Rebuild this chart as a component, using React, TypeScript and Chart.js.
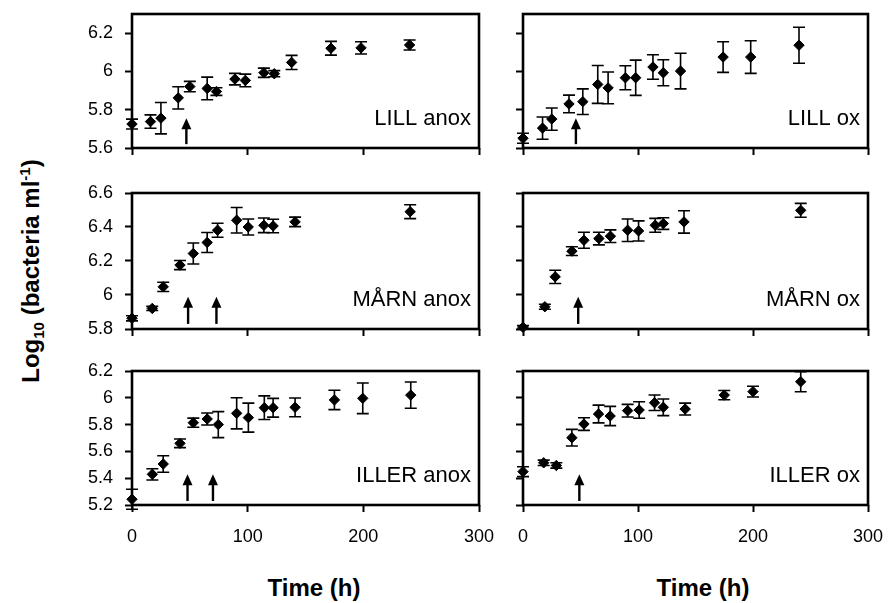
import React, { useEffect, useRef } from "react";
import { Chart, registerables } from "chart.js";

Chart.register(...registerables);

// ---------- tick labels ----------
const xTicks = [0, 100, 200, 300];
const yTicksLILL = [5.6, 5.8, 6.0, 6.2];
const yTicksMARN = [5.8, 6.0, 6.2, 6.4, 6.6];
const yTicksILLER = [5.2, 5.4, 5.6, 5.8, 6.0, 6.2];

// ---------- LILL anox ----------
const lillAnoxTime = [0, 16, 25, 40, 50, 65, 73, 89, 98, 114, 123, 138, 172, 198, 240];
const lillAnoxLog = [5.725, 5.738, 5.756, 5.862, 5.921, 5.911, 5.895, 5.96, 5.953, 5.993, 5.988, 6.047, 6.121, 6.123, 6.138];
const lillAnoxErr = [0.026, 0.035, 0.082, 0.058, 0.027, 0.059, 0.02, 0.03, 0.033, 0.024, 0.016, 0.037, 0.036, 0.032, 0.026];
const lillAnoxArrows = [47];

// ---------- LILL ox ----------
const lillOxTime = [0, 17, 25, 40, 52, 65, 74, 89, 98, 113, 122, 137, 174, 198, 240];
const lillOxLog = [5.651, 5.704, 5.751, 5.83, 5.842, 5.932, 5.914, 5.967, 5.967, 6.023, 5.993, 6.002, 6.075, 6.075, 6.137];
const lillOxErr = [0.026, 0.058, 0.058, 0.046, 0.067, 0.099, 0.083, 0.063, 0.092, 0.064, 0.068, 0.093, 0.08, 0.085, 0.094];
const lillOxArrows = [46];

// ---------- MÅRN anox ----------
const marnAnoxTime = [0, 17.5, 27, 41.5, 53, 65, 74, 90.5, 100.5, 114, 122, 141, 240.5];
const marnAnoxLog = [5.863, 5.921, 6.048, 6.176, 6.244, 6.309, 6.381, 6.44, 6.4, 6.41, 6.406, 6.43, 6.49];
const marnAnoxErr = [0.015, 0.012, 0.027, 0.027, 0.062, 0.059, 0.041, 0.075, 0.047, 0.043, 0.04, 0.028, 0.041];
const marnAnoxArrows = [48.5, 73];

// ---------- MÅRN ox ----------
const marnOxTime = [0, 19, 28, 42.5, 53, 66, 76, 91, 100.5, 115, 122, 140, 241.5];
const marnOxLog = [5.81, 5.931, 6.107, 6.258, 6.322, 6.332, 6.346, 6.381, 6.377, 6.41, 6.42, 6.43, 6.498];
const marnOxErr = [0.01, 0.015, 0.039, 0.026, 0.047, 0.037, 0.037, 0.066, 0.059, 0.041, 0.034, 0.066, 0.041];
const marnOxArrows = [48];

// ---------- ILLER anox ----------
const illerAnoxTime = [0, 17.6, 27, 41.5, 53, 65, 74.6, 90.5, 100.6, 114.4, 122, 141, 175, 199.5, 241];
const illerAnoxLog = [5.243, 5.429, 5.506, 5.66, 5.814, 5.842, 5.8, 5.884, 5.852, 5.926, 5.926, 5.929, 5.984, 5.996, 6.02];
const illerAnoxErr = [0.075, 0.042, 0.062, 0.032, 0.034, 0.045, 0.097, 0.116, 0.108, 0.088, 0.07, 0.07, 0.072, 0.114, 0.098];
const illerAnoxArrows = [48, 70];

// ---------- ILLER ox ----------
const illerOxTime = [0, 18, 29, 42.5, 53, 65.7, 75.8, 91, 101, 114.4, 122, 141, 175, 200, 241.5];
const illerOxLog = [5.449, 5.515, 5.495, 5.702, 5.804, 5.879, 5.864, 5.904, 5.909, 5.963, 5.929, 5.916, 6.02, 6.046, 6.12];
const illerOxErr = [0.037, 0.02, 0.02, 0.062, 0.047, 0.066, 0.072, 0.047, 0.062, 0.058, 0.062, 0.044, 0.035, 0.04, 0.075];
const illerOxArrows = [49];

// arrow extents (tip, base) in log units per row
const arrowLILL = [5.756, 5.62];
const arrowMARN = [5.99, 5.83];
const arrowILLER = [5.43, 5.23];

// ---------- layout (pixels) ----------
const PAD_TOP = 26;
const Y_AXIS_W = 72;
const PAD_RIGHT = 34;
const COLS = [
  { chartLeft: 132, chartRight: 479 },
  { chartLeft: 523, chartRight: 868 },
];
const ROWS = [
  { chartTop: 14, chartBottom: 148, yMin: 5.6, yMax: 6.3, yTicks: yTicksLILL, arrow: arrowLILL },
  { chartTop: 193, chartBottom: 329, yMin: 5.8, yMax: 6.6, yTicks: yTicksMARN, arrow: arrowMARN },
  { chartTop: 371, chartBottom: 505, yMin: 5.2, yMax: 6.2, yTicks: yTicksILLER, arrow: arrowILLER },
];

type PanelSpec = {
  label: string;
  time: number[];
  log: number[];
  err: number[];
  arrows: number[];
  row: number;
  col: number;
};

const PANELS: PanelSpec[] = [
  { label: "LILL anox", time: lillAnoxTime, log: lillAnoxLog, err: lillAnoxErr, arrows: lillAnoxArrows, row: 0, col: 0 },
  { label: "LILL ox", time: lillOxTime, log: lillOxLog, err: lillOxErr, arrows: lillOxArrows, row: 0, col: 1 },
  { label: "MÅRN anox", time: marnAnoxTime, log: marnAnoxLog, err: marnAnoxErr, arrows: marnAnoxArrows, row: 1, col: 0 },
  { label: "MÅRN ox", time: marnOxTime, log: marnOxLog, err: marnOxErr, arrows: marnOxArrows, row: 1, col: 1 },
  { label: "ILLER anox", time: illerAnoxTime, log: illerAnoxLog, err: illerAnoxErr, arrows: illerAnoxArrows, row: 2, col: 0 },
  { label: "ILLER ox", time: illerOxTime, log: illerOxLog, err: illerOxErr, arrows: illerOxArrows, row: 2, col: 1 },
];

const FONT = '"Liberation Sans", Arial, Helvetica, sans-serif';

const decorPlugin = {
  id: "decor",
  beforeDatasetsDraw(chart: any, _args: any, opts: any) {
    const spec: PanelSpec = opts.spec;
    const { ctx } = chart;
    const x = chart.scales.x;
    const y = chart.scales.y;
    ctx.save();
    ctx.strokeStyle = "#000";
    ctx.lineWidth = 1.6;
    spec.time.forEach((t, i) => {
      const px = x.getPixelForValue(t);
      const top = y.getPixelForValue(spec.log[i] + spec.err[i]);
      const bot = y.getPixelForValue(spec.log[i] - spec.err[i]);
      ctx.beginPath();
      ctx.moveTo(px, top);
      ctx.lineTo(px, bot);
      ctx.moveTo(px - 6, top);
      ctx.lineTo(px + 6, top);
      ctx.moveTo(px - 6, bot);
      ctx.lineTo(px + 6, bot);
      ctx.stroke();
    });
    ctx.restore();
  },
  afterDraw(chart: any, _args: any, opts: any) {
    const spec: PanelSpec = opts.spec;
    const row = ROWS[spec.row];
    const { ctx, chartArea: ca } = chart;
    const x = chart.scales.x;
    const y = chart.scales.y;
    ctx.save();
    // frame
    ctx.strokeStyle = "#000";
    ctx.lineWidth = 2.6;
    ctx.strokeRect(ca.left, ca.top, ca.right - ca.left, ca.bottom - ca.top);
    // arrows
    ctx.fillStyle = "#000";
    spec.arrows.forEach((t) => {
      const px = x.getPixelForValue(t);
      const tip = y.getPixelForValue(row.arrow[0]);
      const base = y.getPixelForValue(row.arrow[1]);
      ctx.lineWidth = 2.4;
      ctx.beginPath();
      ctx.moveTo(px, base);
      ctx.lineTo(px, tip + 8);
      ctx.stroke();
      ctx.beginPath();
      ctx.moveTo(px, tip);
      ctx.lineTo(px - 5, tip + 11);
      ctx.lineTo(px + 5, tip + 11);
      ctx.closePath();
      ctx.fill();
    });
    // panel label
    ctx.font = `22px ${FONT}`;
    ctx.textAlign = "right";
    ctx.textBaseline = "alphabetic";
    ctx.fillText(spec.label, ca.right - 8, ca.bottom - 23);
    ctx.restore();
  },
};

function Panel({ spec }: { spec: PanelSpec }) {
  const ref = useRef<HTMLCanvasElement>(null);
  const row = ROWS[spec.row];
  const col = COLS[spec.col];
  const isBottom = spec.row === 2;
  const xAxisH = isBottom ? 45 : 8;
  const padBottom = isBottom ? 4 : 20;
  const canvasLeft = col.chartLeft - Y_AXIS_W;
  const canvasW = col.chartRight + PAD_RIGHT - canvasLeft;
  const canvasTop = row.chartTop - PAD_TOP;
  const canvasH = row.chartBottom - row.chartTop + PAD_TOP + xAxisH + padBottom;

  useEffect(() => {
    const chart = new Chart(ref.current as HTMLCanvasElement, {
      type: "scatter",
      data: {
        datasets: [
          {
            data: spec.time.map((t, i) => ({ x: t, y: spec.log[i] })),
            pointStyle: "rectRot",
            pointRadius: 5.2,
            pointBorderWidth: 1,
            backgroundColor: "#000",
            borderColor: "#000",
            clip: false as any,
          } as any,
        ],
      },
      options: {
        animation: false,
        responsive: false,
        maintainAspectRatio: false,
        events: [],
        layout: { autoPadding: false, padding: { top: PAD_TOP, bottom: padBottom, left: 0, right: PAD_RIGHT } },
        plugins: {
          legend: { display: false },
          tooltip: { enabled: false },
          decor: { spec },
        } as any,
        scales: {
          x: {
            type: "linear",
            min: 0,
            max: 300,
            afterBuildTicks: (s: any) => {
              s.ticks = xTicks.map((v) => ({ value: v }));
            },
            afterFit: (s: any) => {
              s.height = xAxisH;
            },
            grid: {
              display: true,
              drawOnChartArea: false,
              drawTicks: true,
              tickLength: 7,
              tickWidth: 2,
              tickColor: "#000",
            },
            border: { display: false },
            ticks: {
              display: isBottom,
              padding: 14,
              color: "#000",
              maxRotation: 0,
              font: { family: FONT, size: 18 },
            },
          },
          y: {
            type: "linear",
            min: row.yMin,
            max: row.yMax,
            afterBuildTicks: (s: any) => {
              s.ticks = row.yTicks.map((v) => ({ value: v }));
            },
            afterFit: (s: any) => {
              s.width = Y_AXIS_W;
            },
            grid: {
              display: true,
              drawOnChartArea: false,
              drawTicks: true,
              tickLength: 7,
              tickWidth: 2,
              tickColor: "#000",
            },
            border: { display: false },
            ticks: {
              display: spec.col === 0,
              padding: 12,
              color: "#000",
              font: { family: FONT, size: 18 },
              callback: (v: any) => String(Math.round(Number(v) * 10) / 10),
            },
          },
        },
      },
      plugins: [decorPlugin as any],
    });
    return () => chart.destroy();
  }, [spec]);

  return (
    <canvas
      ref={ref}
      width={canvasW}
      height={canvasH}
      style={{
        position: "absolute",
        left: canvasLeft,
        top: canvasTop,
        width: canvasW,
        height: canvasH,
      }}
    />
  );
}

export default function App() {
  const titleStyle: React.CSSProperties = {
    position: "absolute",
    fontFamily: FONT,
    fontWeight: "bold",
    fontSize: 24,
    lineHeight: 1,
    whiteSpace: "nowrap",
    color: "#000",
    transform: "translate(-50%, -50%)",
  };
  return (
    <div
      style={{
        position: "fixed",
        left: 0,
        top: 0,
        width: 890,
        height: 603,
        background: "#fff",
        overflow: "hidden",
      }}
    >
      {PANELS.map((p) => (
        <Panel key={p.label} spec={p} />
      ))}
      <div style={{ ...titleStyle, left: 314, top: 588 }}>Time (h)</div>
      <div style={{ ...titleStyle, left: 703, top: 588 }}>Time (h)</div>
      <div
        style={{
          ...titleStyle,
          left: 31,
          top: 271,
          transform: "translate(-50%, -50%) rotate(-90deg)",
        }}
      >
        Log
        <span style={{ fontSize: 15, position: "relative", top: 5 }}>10</span> (bacteria ml
        <span style={{ fontSize: 15, position: "relative", top: -9 }}>-1</span>)
      </div>
    </div>
  );
}
